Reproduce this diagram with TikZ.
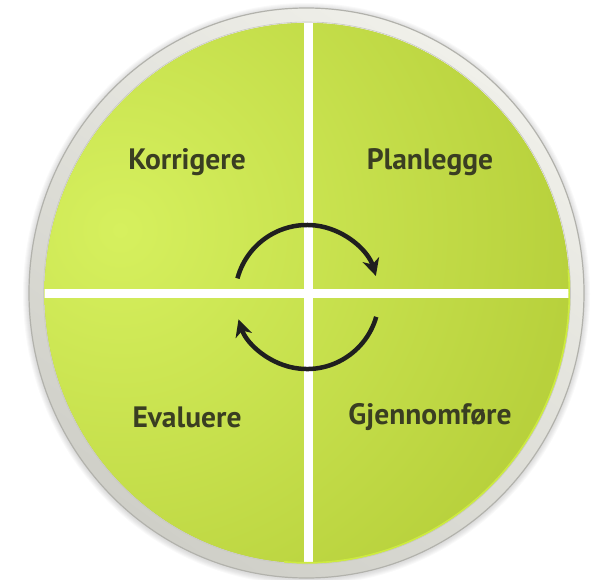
\documentclass[tikz,border=0pt]{standalone}
\usepackage{fontspec}
\setmainfont{PT Sans}
\usetikzlibrary{arrows.meta,calc}
\definecolor{ringlight}{HTML}{F0F0EA}
\definecolor{ringdark}{HTML}{CFCFC8}
\definecolor{ringedge}{HTML}{B2B2AC}
\definecolor{greenlight}{HTML}{D6F05E}
\definecolor{greenbase}{HTML}{B6CF3A}
\definecolor{rim}{HTML}{CDEB3E}
\definecolor{txt}{HTML}{3A3E22}
\begin{document}
\begin{tikzpicture}[x=1pt,y=-1pt,
  lbl/.style={font=\bfseries\fontsize{29.5}{34}\selectfont, text=txt, inner sep=0pt},
  cyc/.style={line width=4.5pt, draw=black!88, -{Stealth[length=17pt,width=17pt,inset=5pt]}},
  divider/.style={white, line width=9pt}]
\useasboundingbox (0,0) rectangle (595,579);
% soft shadow
\foreach \i in {1,...,6}
  \fill[black, opacity=0.025] (306.5,294) ellipse ({277.5+\i} and {285+\i});
% ring
\shade[top color=ringlight, bottom color=ringdark, shading angle=-35, draw=ringedge, line width=1.2pt]
  (306.5,293) ellipse (277.5 and 285);
% green disc
\begin{scope}
  \clip (307,293) ellipse (262.5 and 270);
  \fill[greenbase] (0,0) rectangle (595,579);
  \shade[inner color=greenlight, outer color=greenbase] (120,230) circle (480);
  \draw[divider] (308,0) -- (308,579);
  \draw[divider] (0,293) -- (595,293);
\end{scope}
\draw[rim, line width=2pt] (307,293) ++(-5:262.5 and 270) arc[start angle=-5, end angle=95, x radius=262.5, y radius=270];
\draw[ringedge!70, line width=0.6pt] (307,293) ellipse (263.5 and 271);
% labels
\node[lbl] (kor) at (187,162) {Korrigere};
\node[lbl] (pla) at (430,162) {Planlegge};
\node[lbl] (eva) at (187,417) {Evaluere};
\node[lbl] (gje) at (430,417) {Gjennomføre};
% cycle arrows
\coordinate (c) at (307,297);
\draw[cyc] ($(c)+(195:72)$) arc[start angle=195, end angle=343, radius=72];
\draw[cyc] ($(c)+(16:72)$) arc[start angle=16, end angle=162, radius=72];
\end{tikzpicture}
\end{document}
